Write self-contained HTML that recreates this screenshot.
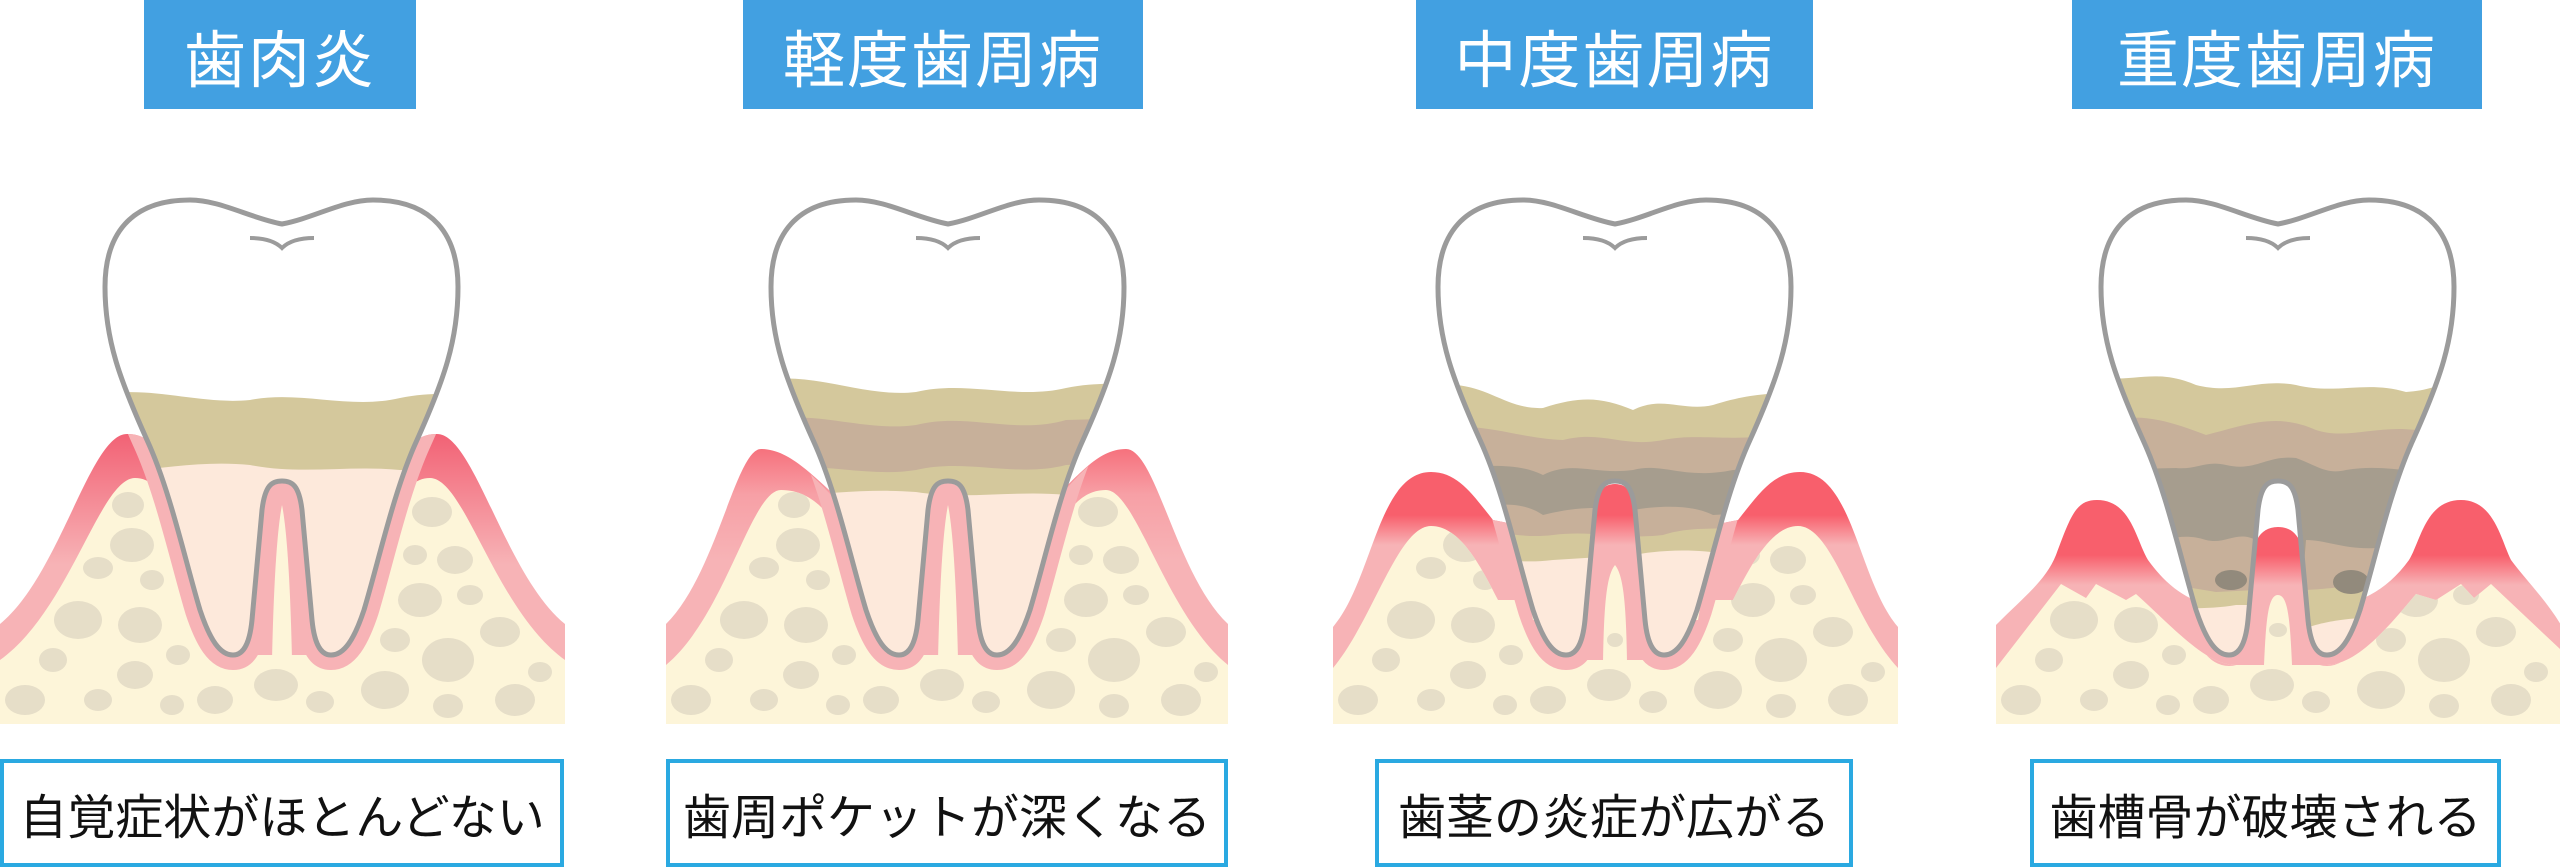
<!DOCTYPE html>
<html><head><meta charset="utf-8"><style>
html,body{margin:0;padding:0;background:#fff;width:2560px;height:867px;overflow:hidden}
.t{position:absolute;top:0;height:109px;background:#42a0e1;color:#fff;font:400 62px "Liberation Sans","Noto Sans CJK JP",sans-serif;display:flex;align-items:center;justify-content:center;letter-spacing:2px}
.c{position:absolute;top:759px;border:4px solid #2aa9e1;box-sizing:border-box;background:#fff;color:#111;font:400 48px "Liberation Sans","Noto Sans CJK JP",sans-serif;display:flex;align-items:center;justify-content:center;height:108px}
svg{position:absolute;left:0;top:0}
</style></head><body>
<svg width="2560" height="867" viewBox="0 0 2560 867">
<defs>
<path id="tooth" d="M282,224 C250,218 220,200 190,200 C130,200 105,235 105,287 C105,340 120,380 147,440 C170,490 185,560 200,610 C210,640 220,655 233,655 C245,655 250,640 252,620 L262,510 C265,485 272,481 282,481 C292,481 299,485 302,510 L312,620 C314,640 319,655 331,655 C344,655 354,640 364,610 C379,560 394,490 417,440 C444,380 458,340 458,287 C458,235 433,200 373,200 C343,200 314,218 282,224 Z"/>
<clipPath id="tc"><use href="#tooth"/></clipPath>
<path id="gum1" d="M0,624 C60,575 90,434 127,434 C150,434 162,450 180,500 L385,500 C402,450 414,434 437,434 C474,434 505,575 565,624 L565,724 L0,724Z"/>
<path id="gum2" d="M0,624 C50,575 70,449 95,449 C125,449 150,480 175,500 L385,500 C410,480 430,449 460,449 C490,449 510,575 562,624 L562,724 L0,724Z"/>
<path id="gum3" d="M0,627 C40,580 45,472 98,472 C125,472 140,495 160,520 L185,525 L190,560 L200,620 L365,620 L375,560 L380,525 L405,520 C425,495 440,472 467,472 C520,472 525,580 565,627 L565,724 L0,724Z"/>
<clipPath id="cg1"><path d="M0,624 C60,575 90,434 127,434 C150,434 162,450 175,480 L390,480 C402,450 414,434 437,434 C474,434 505,575 565,624 L565,724 L0,724Z"/></clipPath>
<clipPath id="cg2"><path d="M0,624 C50,575 70,449 95,449 C125,449 150,480 175,505 L385,505 C410,480 430,449 460,449 C490,449 510,575 562,624 L562,724 L0,724Z"/></clipPath>
<clipPath id="cg3"><path d="M0,627 C40,580 45,472 98,472 C125,472 140,495 160,520 L185,525 L190,560 L200,620 L365,620 L375,560 L380,525 L405,520 C425,495 440,472 467,472 C520,472 525,580 565,627 L565,724 L0,724Z"/></clipPath>
<linearGradient id="g1" x1="0" y1="0" x2="0" y2="1"><stop offset="0" stop-color="#f26275"/><stop offset="0.45" stop-color="#f7b3b6"/><stop offset="1" stop-color="#f7b3b6"/></linearGradient>
<linearGradient id="g2" gradientUnits="userSpaceOnUse" x1="0" y1="430" x2="0" y2="560"><stop offset="0" stop-color="#f65e6c"/><stop offset="0.5" stop-color="#f7a0a6"/><stop offset="1" stop-color="#f7b3b6"/></linearGradient>
<linearGradient id="g3" gradientUnits="userSpaceOnUse" x1="0" y1="470" x2="0" y2="570"><stop offset="0" stop-color="#f85f6c"/><stop offset="0.45" stop-color="#f85f6c"/><stop offset="0.75" stop-color="#f7b3b6"/><stop offset="1" stop-color="#f7b3b6"/></linearGradient>
<linearGradient id="g4" gradientUnits="userSpaceOnUse" x1="0" y1="500" x2="0" y2="600"><stop offset="0" stop-color="#f85f6c"/><stop offset="0.55" stop-color="#f85f6c"/><stop offset="0.85" stop-color="#f7b3b6"/><stop offset="1" stop-color="#f7b3b6"/></linearGradient>
<g id="spots" fill="#e6dec8">
<ellipse cx="25" cy="700" rx="20" ry="15"/><ellipse cx="98" cy="700" rx="14" ry="11"/><ellipse cx="128" cy="505" rx="16" ry="13"/><ellipse cx="132" cy="545" rx="22" ry="17"/><ellipse cx="98" cy="568" rx="15" ry="11"/><ellipse cx="152" cy="580" rx="12" ry="10"/><ellipse cx="78" cy="620" rx="24" ry="19"/><ellipse cx="140" cy="625" rx="22" ry="18"/><ellipse cx="53" cy="660" rx="14" ry="12"/><ellipse cx="135" cy="675" rx="18" ry="14"/><ellipse cx="178" cy="655" rx="12" ry="10"/><ellipse cx="172" cy="705" rx="12" ry="10"/><ellipse cx="215" cy="700" rx="18" ry="14"/><ellipse cx="276" cy="685" rx="22" ry="16"/><ellipse cx="282" cy="640" rx="12" ry="10"/><ellipse cx="320" cy="702" rx="14" ry="11"/><ellipse cx="385" cy="690" rx="24" ry="19"/><ellipse cx="395" cy="640" rx="15" ry="12"/><ellipse cx="448" cy="660" rx="26" ry="22"/><ellipse cx="500" cy="632" rx="20" ry="15"/><ellipse cx="432" cy="512" rx="20" ry="15"/><ellipse cx="415" cy="555" rx="12" ry="10"/><ellipse cx="455" cy="560" rx="18" ry="14"/><ellipse cx="420" cy="600" rx="22" ry="17"/><ellipse cx="470" cy="595" rx="13" ry="10"/><ellipse cx="540" cy="672" rx="12" ry="10"/><ellipse cx="515" cy="700" rx="20" ry="16"/><ellipse cx="448" cy="706" rx="15" ry="12"/><ellipse cx="283" cy="573" rx="8" ry="7"/><ellipse cx="283" cy="600" rx="10" ry="8"/><ellipse cx="528" cy="560" rx="14" ry="11"/>
</g>
<path id="gap" d="M282,483 C268,483 264,500 262,515 L254,655 L310,655 L302,515 C300,500 296,483 282,483Z"/>
<path id="gapbone" d="M282,505 C278,525 274,570 272,660 L292,660 C290,570 286,525 282,505Z"/>
</defs>

<!-- Panel 1 -->
<g transform="translate(0,0)">
<use href="#gum1" fill="url(#g1)"/>
<clipPath id="b1"><path d="M0,660 C70,610 100,478 135,478 C160,478 175,510 190,560 L375,560 C390,510 405,478 430,478 C465,478 495,610 565,660 L565,724 L0,724Z"/></clipPath>
<g clip-path="url(#b1)"><rect width="565" height="724" fill="#fdf5d9"/><use href="#spots"/></g>
<use href="#tooth" fill="none" stroke="#f7b3b6" stroke-width="30" clip-path="url(#cg1)"/>
<use href="#gap" fill="#f7b3b6"/><use href="#gapbone" fill="#fdf5d9"/>
<g clip-path="url(#tc)"><rect width="565" height="724" fill="#fff"/>
<path d="M100,395 C150,385 200,405 250,400 C300,390 350,410 400,398 C430,392 450,395 470,392 L470,900 L100,900Z" fill="#d4c89c"/>
<path d="M100,475 C150,470 200,460 250,465 C300,475 350,465 400,470 L470,472 L470,900 L100,900Z" fill="#fde9db"/></g>
<use href="#tooth" fill="none" stroke="#9b9b9b" stroke-width="5"/>
<path d="M250,238 Q272,238 282,248 Q292,238 314,238" fill="none" stroke="#9b9b9b" stroke-width="4"/>
</g>

<!-- Panel 2 -->
<g transform="translate(666,0)">
<use href="#gum2" fill="url(#g2)"/>
<clipPath id="b2"><path d="M0,665 C60,615 85,490 115,490 C150,490 170,520 190,560 L375,560 C395,520 410,490 440,490 C470,490 500,615 562,665 L562,724 L0,724Z"/></clipPath>
<g clip-path="url(#b2)"><rect width="565" height="724" fill="#fdf5d9"/><use href="#spots"/></g>
<use href="#tooth" fill="none" stroke="#f7b3b6" stroke-width="30" clip-path="url(#cg2)"/>
<use href="#gap" fill="#f7b3b6"/><use href="#gapbone" fill="#fdf5d9"/>
<g clip-path="url(#tc)"><rect width="565" height="724" fill="#fff"/>
<path d="M100,380 C150,372 200,398 250,392 C300,380 350,400 400,388 C430,382 450,385 470,382 L470,900 L100,900Z" fill="#d4c89c"/>
<path d="M100,420 C150,410 200,432 250,425 C300,412 350,435 400,420 L470,418 L470,900 L100,900Z" fill="#c7b09a"/>
<path d="M100,470 C150,460 200,478 250,470 C300,458 350,478 400,465 L470,462 L470,900 L100,900Z" fill="#d4c89c"/>
<path d="M100,498 C150,495 200,488 250,492 C300,500 350,490 400,495 L470,495 L470,900 L100,900Z" fill="#fde9db"/></g>
<use href="#tooth" fill="none" stroke="#9b9b9b" stroke-width="5"/>
<path d="M250,238 Q272,238 282,248 Q292,238 314,238" fill="none" stroke="#9b9b9b" stroke-width="4"/>
</g>

<!-- Panel 3 -->
<g transform="translate(1333,0)">
<use href="#gum3" fill="url(#g3)"/>
<clipPath id="b3"><path d="M0,668 C40,620 65,526 98,526 C125,526 145,560 165,600 L400,600 C420,560 440,526 465,526 C500,526 520,620 565,668 L565,724 L0,724Z"/></clipPath>
<g clip-path="url(#b3)"><rect width="565" height="724" fill="#fdf5d9"/><use href="#spots"/></g>
<use href="#tooth" fill="none" stroke="#f7b3b6" stroke-width="30" clip-path="url(#cg3)"/>
<path d="M282,484 C262,484 258,510 256,540 L250,660 L314,660 L308,540 C306,510 302,484 282,484Z" fill="url(#g3)"/>
<path d="M282,565 C274,575 271,600 270,662 L294,662 C293,600 290,575 282,565Z" fill="#fdf5d9"/>
<ellipse cx="282" cy="640" rx="8" ry="7" fill="#e6dec8"/>
<g clip-path="url(#tc)"><rect width="565" height="724" fill="#fff"/>
<path d="M100,386 C150,378 170,410 210,408 C250,395 270,398 300,410 C330,395 350,412 380,405 C420,392 450,393 470,393 L470,900 L100,900Z" fill="#d4c89c"/>
<path d="M100,430 C150,420 180,438 230,440 C270,430 290,448 330,440 C370,432 400,445 470,430 L470,900 L100,900Z" fill="#c7b09a"/>
<path d="M100,462 C150,470 180,460 210,475 C240,460 260,475 300,470 C330,462 350,480 400,470 C430,468 450,470 470,465 L470,900 L100,900Z" fill="#a69d8e"/>
<path d="M100,510 C150,510 180,495 210,515 C250,505 270,508 300,510 C330,505 360,505 380,515 L470,510 L470,900 L100,900Z" fill="#c7b09a"/>
<path d="M100,530 C150,525 180,540 220,535 C260,530 290,540 330,535 C360,525 390,530 470,528 L470,900 L100,900Z" fill="#d4c89c"/>
<path d="M100,558 C150,555 180,565 220,560 L300,555 C340,548 370,550 400,555 L470,555 L470,900 L100,900Z" fill="#fde9db"/></g>
<use href="#tooth" fill="none" stroke="#9b9b9b" stroke-width="5"/>
<path d="M250,238 Q272,238 282,248 Q292,238 314,238" fill="none" stroke="#9b9b9b" stroke-width="4"/>
</g>

<!-- Panel 4 -->
<g transform="translate(1996,0)">
<path d="M0,625 C30,595 50,580 60,555 C75,515 80,500 101,500 C135,500 140,540 152,560 C175,592 200,605 230,608 L330,608 C360,605 390,592 413,560 C425,540 430,500 465,500 C498,500 505,540 515,560 C530,580 550,600 565,625 L565,724 L0,724Z" fill="url(#g4)"/>
<clipPath id="b4"><path d="M0,668 L65,584 L90,598 L100,584 L130,600 L140,594 C180,630 210,665 240,665 L330,665 C360,665 390,630 420,594 L440,600 L465,584 L478,598 L495,584 L565,650 L565,724 L0,724Z"/></clipPath>
<g clip-path="url(#b4)"><rect width="565" height="724" fill="#fdf5d9"/><use href="#spots"/></g>
<use href="#tooth" fill="none" stroke="#f7b3b6" stroke-width="22" clip-path="url(#b4)"/>
<path d="M282,527 C262,527 256,545 254,570 L248,665 L316,665 L310,570 C308,545 302,527 282,527Z" fill="url(#g4)"/>
<path d="M282,595 C272,595 270,620 268,665 L296,665 C294,620 292,595 282,595Z" fill="#fdf5d9"/>
<ellipse cx="282" cy="630" rx="9" ry="7" fill="#e6dec8"/>
<g clip-path="url(#tc)"><rect width="565" height="724" fill="#fff"/>
<path d="M100,378 C140,382 160,368 200,385 C240,395 260,378 300,385 C340,395 370,380 410,392 C440,390 450,380 470,380 L470,900 L100,900Z" fill="#d4c89c"/>
<path d="M100,425 C140,410 170,420 210,435 C250,425 280,412 320,430 C350,440 380,425 420,430 L470,428 L470,900 L100,900Z" fill="#c7b09a"/>
<path d="M100,470 L180,468 C200,470 210,460 230,465 C260,472 270,455 300,458 C320,465 330,475 350,470 C380,465 400,470 430,472 L470,470 L470,900 L100,900Z" fill="#a69d8e"/>
<path d="M100,555 C160,545 180,530 210,540 C230,545 240,530 260,540 L262,640 L302,640 L310,540 C330,540 350,550 380,548 L470,550 L470,900 L100,900Z" fill="#c7b09a"/>
<path d="M100,590 C150,580 180,585 220,592 L260,590 L262,640 L302,640 L305,590 C340,590 360,580 470,588 L470,900 L100,900Z" fill="#d4c89c"/>
<path d="M100,608 C150,605 200,612 240,605 L260,605 L262,660 L302,660 L305,630 C330,620 360,615 470,615 L470,900 L100,900Z" fill="#fde9db"/>
<ellipse cx="235" cy="580" rx="16" ry="10" fill="#928a7c"/><ellipse cx="355" cy="582" rx="18" ry="12" fill="#928a7c"/></g>
<use href="#tooth" fill="none" stroke="#9b9b9b" stroke-width="5"/>
<path d="M250,238 Q272,238 282,248 Q292,238 314,238" fill="none" stroke="#9b9b9b" stroke-width="4"/>
</g>
</svg>

<div class="t" style="left:144px;width:272px">歯肉炎</div>
<div class="t" style="left:743px;width:400px">軽度歯周病</div>
<div class="t" style="left:1416px;width:397px">中度歯周病</div>
<div class="t" style="left:2072px;width:410px">重度歯周病</div>

<div class="c" style="left:0;width:564px">自覚症状がほとんどない</div>
<div class="c" style="left:666px;width:562px">歯周ポケットが深くなる</div>
<div class="c" style="left:1375px;width:478px">歯茎の炎症が広がる</div>
<div class="c" style="left:2030px;width:471px">歯槽骨が破壊される</div>
</body></html>
